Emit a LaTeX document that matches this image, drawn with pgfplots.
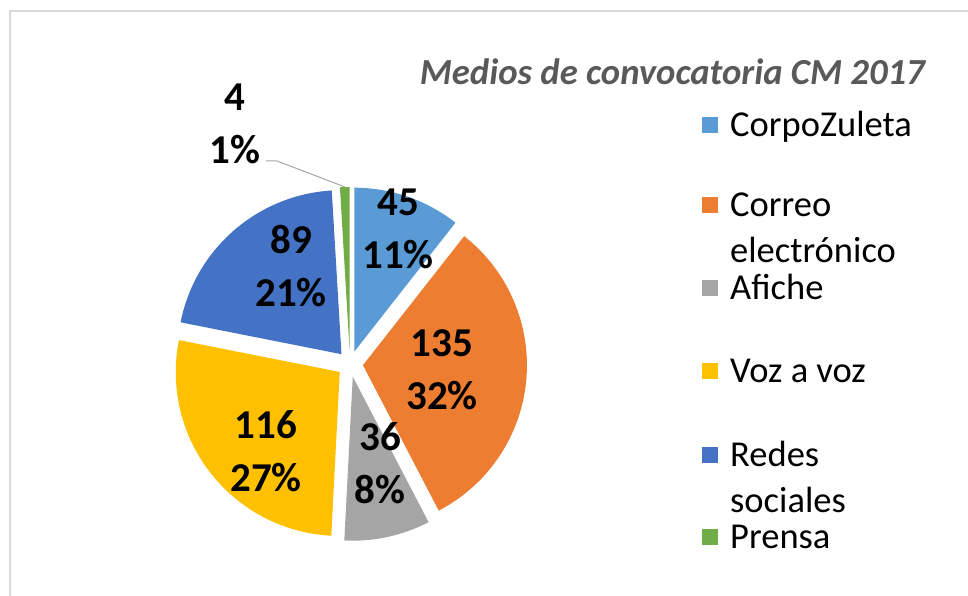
\documentclass[border=0pt]{standalone}
\usepackage{fontspec}
\setmainfont{Carlito}
\usepackage{pgfplots}
\usepackage{pgfplotstable}
\pgfplotsset{compat=1.18}

\definecolor{corpo}{HTML}{5B9BD5}
\definecolor{correo}{HTML}{ED7D31}
\definecolor{afiche}{HTML}{A5A5A5}
\definecolor{voz}{HTML}{FFC000}
\definecolor{redes}{HTML}{4472C4}
\definecolor{prensa}{HTML}{70AD47}
\definecolor{titlegray}{HTML}{595959}
\definecolor{framegray}{HTML}{D9D9D9}
\definecolor{leadgray}{HTML}{A6A6A6}

% value, colour, centre of the data label (axis units, 1 unit = 1pt)
\pgfplotstableread{
value colour lx ly
45 corpo 398 367
135 correo 442 226
36 afiche 380 132.5
116 voz 266 145
89 redes 291 329.5
4 prensa 235 472.5
}\piedata

\newcommand\cx{350}
\newcommand\cy{232}
\newcommand\rad{164}
\newcommand\expl{13}
\newcommand\lbfont{\fontsize{41}{53}\selectfont\bfseries}
\newcommand\lgfont{\fontsize{36.5}{46}\selectfont}

\begin{document}
\begin{tikzpicture}
% total and angles (clockwise from 12 o'clock)
\pgfplotstablegetrowsof{\piedata}
\pgfmathtruncatemacro\nlast{\pgfplotsretval-1}
\xdef\total{0}
\foreach \i in {0,...,\nlast}{
  \pgfplotstablegetelem{\i}{value}\of\piedata
  \pgfmathsetmacro\s{\total+\pgfplotsretval}
  \xdef\total{\s}
}
\xdef\cur{90}
\foreach \i in {0,...,\nlast}{
  \pgfplotstablegetelem{\i}{value}\of\piedata
  \let\val\pgfplotsretval
  \expandafter\xdef\csname pv\i\endcsname{\val}
  \pgfmathsetmacro\frac{\val/\total}
  \pgfmathsetmacro\e{\cur-360*\frac}
  \pgfmathsetmacro\m{(\cur+\e)/2}
  \pgfmathsetmacro\tx{\cx+\expl*cos(\m)}
  \pgfmathsetmacro\ty{\cy+\expl*sin(\m)}
  \pgfmathsetmacro\sx{\tx+\rad*cos(\cur)}
  \pgfmathsetmacro\sy{\ty+\rad*sin(\cur)}
  \pgfmathtruncatemacro\pct{round(100*\frac)}
  \expandafter\xdef\csname pa\i\endcsname{\cur}
  \expandafter\xdef\csname pb\i\endcsname{\e}
  \expandafter\xdef\csname tx\i\endcsname{\tx}
  \expandafter\xdef\csname ty\i\endcsname{\ty}
  \expandafter\xdef\csname sx\i\endcsname{\sx}
  \expandafter\xdef\csname sy\i\endcsname{\sy}
  \expandafter\xdef\csname pp\i\endcsname{\pct}
  \pgfplotstablegetelem{\i}{colour}\of\piedata
  \expandafter\xdef\csname col\i\endcsname{\pgfplotsretval}
  \pgfplotstablegetelem{\i}{lx}\of\piedata
  \expandafter\xdef\csname lx\i\endcsname{\pgfplotsretval}
  \pgfplotstablegetelem{\i}{ly}\of\piedata
  \expandafter\xdef\csname ly\i\endcsname{\pgfplotsretval}
  \xdef\cur{\e}
}
\begin{axis}[
  width=968pt, height=596pt, scale only axis,
  xmin=0, xmax=968, ymin=0, ymax=596,
  hide axis,
]
\draw[framegray, line width=2pt] (axis cs:10,0) -- (axis cs:10,584.5) -- (axis cs:968,584.5);

% slices
\pgfplotsinvokeforeach{0,...,5}{
  \edef\temp{\noexpand\fill[\csname col#1\endcsname]
    (axis cs:\csname tx#1\endcsname,\csname ty#1\endcsname)
    -- (axis cs:\csname sx#1\endcsname,\csname sy#1\endcsname)
    arc[start angle=\csname pa#1\endcsname, end angle=\csname pb#1\endcsname, radius=\rad pt]
    -- cycle;}
  \temp
}

% leader line for Prensa
\draw[leadgray, line width=1pt] (axis cs:266,435) -- (axis cs:277,435) -- (axis cs:345,409);

% data labels
\pgfplotsinvokeforeach{0,...,5}{
  \edef\temp{\noexpand\node[font=\noexpand\lbfont, align=center, inner sep=0pt]
    at (axis cs:\csname lx#1\endcsname,\csname ly#1\endcsname)
    {\csname pv#1\endcsname\noexpand\\\csname pp#1\endcsname\noexpand\%};}
  \temp
}

% title
\node[anchor=base east, text=titlegray, font=\fontsize{36.7}{44}\selectfont\bfseries\itshape, inner sep=0pt]
  at (axis cs:925,511) {Medios de convocatoria CM 2017};

% legend
\fill[corpo]  (axis cs:702,463) rectangle (axis cs:718,479);
\fill[correo] (axis cs:702,383) rectangle (axis cs:718,399);
\fill[afiche] (axis cs:702,300) rectangle (axis cs:718,316);
\fill[voz]    (axis cs:702,217) rectangle (axis cs:718,233);
\fill[redes]  (axis cs:702,133) rectangle (axis cs:718,149);
\fill[prensa] (axis cs:702,51)  rectangle (axis cs:718,67);
\begin{scope}[every node/.style={anchor=base west, font=\lgfont, inner sep=0pt}]
\node at (axis cs:730,459) {CorpoZuleta};
\node at (axis cs:730,379) {Correo};
\node at (axis cs:730,333) {electrónico};
\node at (axis cs:730,296) {Afiche};
\node at (axis cs:730,213) {Voz a voz};
\node at (axis cs:730,129) {Redes};
\node at (axis cs:730,83)  {sociales};
\node at (axis cs:730,47)  {Prensa};
\end{scope}
\end{axis}
\pgfresetboundingbox
\path (current axis.south west) rectangle (current axis.north east);
\end{tikzpicture}
\end{document}
